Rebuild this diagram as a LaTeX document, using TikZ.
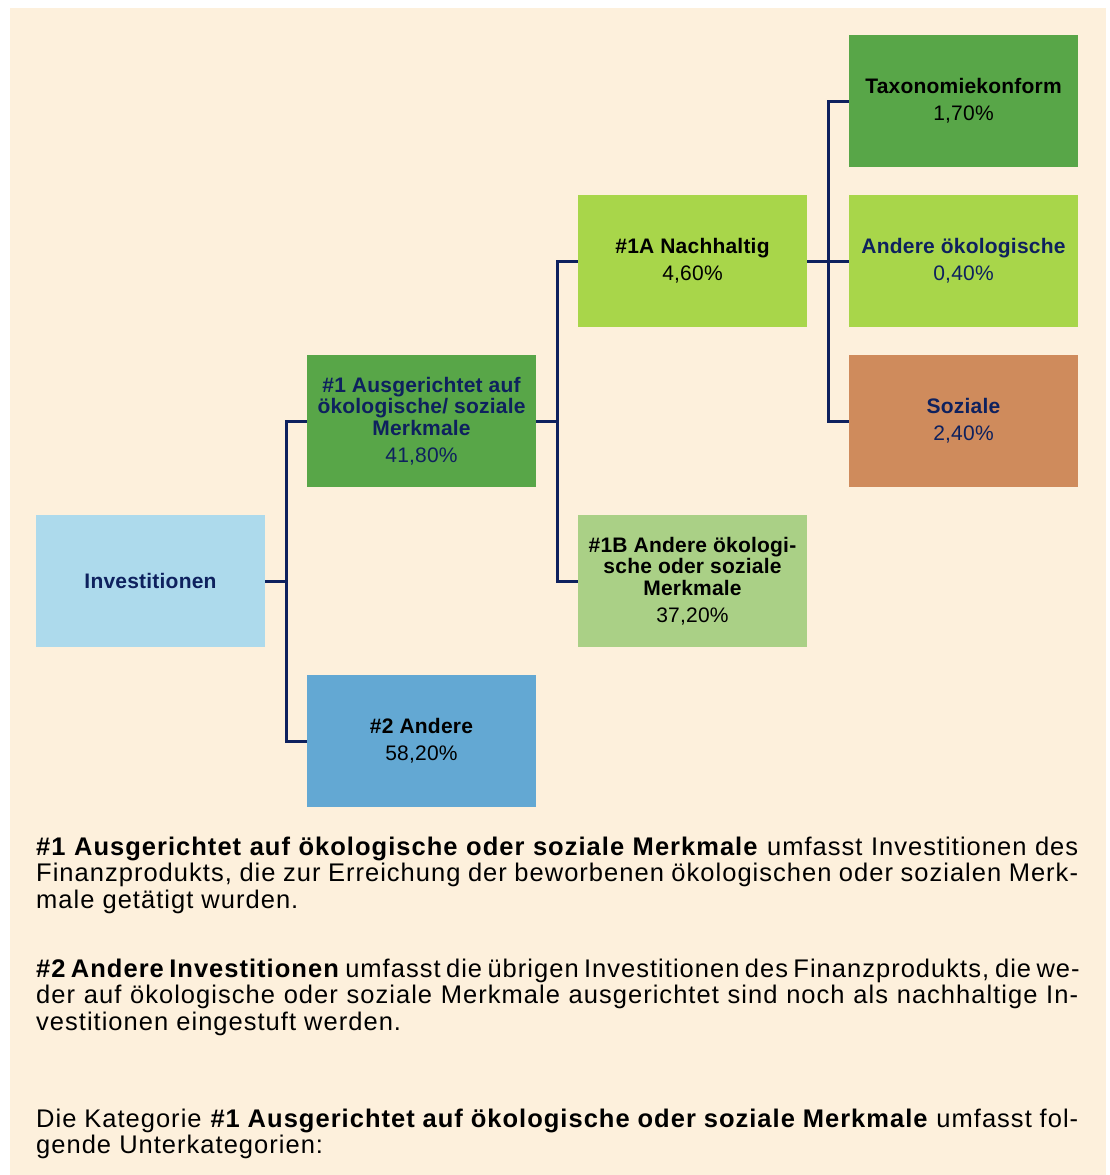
\documentclass[tikz,border=0pt]{standalone}
\usepackage{fontspec}
\setmainfont{Liberation Sans}
\newfontfamily\parafont[LetterSpace=4]{Liberation Sans}
\newfontfamily\boxfont[LetterSpace=1]{Liberation Sans}
\hyphenpenalty=10000
\definecolor{creme}{RGB}{253,240,220}
\definecolor{navy}{RGB}{14,33,94}
\definecolor{hellblau}{RGB}{173,218,236}
\definecolor{gruen}{RGB}{88,166,72}
\definecolor{blau}{RGB}{99,168,211}
\definecolor{hellgruen}{RGB}{168,214,74}
\definecolor{blassgruen}{RGB}{170,208,134}
\definecolor{kupfer}{RGB}{207,139,92}
\tikzset{
    box/.style={minimum width=229pt, minimum height=132pt, inner sep=0pt, align=center,
        font=\boxfont\fontsize{21}{21.5}\selectfont\bfseries},
    conn/.style={draw=navy, line width=3pt},
    para/.style={anchor=base west, inner sep=0pt, text width=1042pt, align=justify,
        font=\parafont\fontsize{25.5}{26.5}\selectfont}
}
\begin{document}
\begin{tikzpicture}[x=1pt, y=-1pt]
        % Background
        \useasboundingbox (0,0) rectangle (1110,1175);
        \fill[creme] (10,8) rectangle (1106,1175);
        % Boxes
        \node[box, fill=hellblau, text=navy] (invest) at (150.5,581) {Investitionen};
        \node[box, fill=gruen, text=navy] (ausger) at (421.5,421)
            {\#1 Ausgerichtet auf\\ökologische/ soziale\\Merkmale\\[5.5pt]\mdseries 41,80\%};
        \node[box, fill=blau] (andere) at (421.5,741) {\#2 Andere\\[5.5pt]\mdseries 58,20\%};
        \node[box, fill=hellgruen] (nachh) at (692.5,261) {\#1A Nachhaltig\\[5.5pt]\mdseries 4,60\%};
        \node[box, fill=blassgruen] (oekosoz) at (692.5,581)
            {\#1B Andere ökologi-\\sche oder soziale\\Merkmale\\[5.5pt]\mdseries 37,20\%};
        \node[box, fill=gruen] (taxo) at (963.5,101) {Taxonomiekonform\\[5.5pt]\mdseries 1,70\%};
        \node[box, fill=hellgruen, text=navy] (andoeko) at (963.5,261)
            {Andere ökologische\\[5.5pt]\mdseries 0,40\%};
        \node[box, fill=kupfer, text=navy] (soziale) at (963.5,421) {Soziale\\[5.5pt]\mdseries 2,40\%};
        % Connectors
        \foreach \child in {ausger, andere} {
            \draw[conn] (invest.east) -- ++(21,0) |- (\child.west);
        }
        \foreach \child in {nachh, oekosoz} {
            \draw[conn] (ausger.east) -- ++(21,0) |- (\child.west);
        }
        \foreach \child in {taxo, andoeko, soziale} {
            \draw[conn] (nachh.east) -- ++(21,0) |- (\child.west);
        }
        % Explanations
        \node[para] (text1) at (36,855) {\textbf{\#1 Ausgerichtet auf ökologische oder soziale Merkmale} umfasst Investitionen des\linebreak
            Finanzprodukts, die zur Erreichung der beworbenen ökologischen oder sozialen Merk-\linebreak
            male getätigt wurden.};
        \node[para] (text2) at (36,977) {\textbf{\#2 Andere Investitionen} umfasst die übrigen Investitionen des Finanzprodukts, die we-\linebreak
            der auf ökologische oder soziale Merkmale ausgerichtet sind noch als nachhaltige In-\linebreak
            vestitionen eingestuft werden.};
        \node[para] (text3) at (36,1127) {Die Kategorie \textbf{\#1 Ausgerichtet auf ökologische oder soziale Merkmale} umfasst fol-\linebreak
            gende Unterkategorien:};
    \end{tikzpicture}
\end{document}
